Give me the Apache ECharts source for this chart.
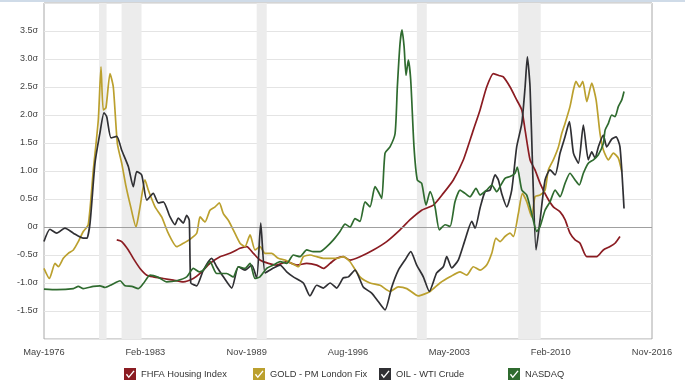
<!DOCTYPE html>
<html>
<head>
<meta charset="utf-8">
<script src="https://cdn.jsdelivr.net/npm/echarts@6/dist/echarts.min.js"></script>
<style>
html,body{margin:0;padding:0;background:#fff;}
#chart{width:685px;height:386px;}
</style>
</head>
<body>
<div id="chart"></div>
<script>
// x values are decimal years, y values are standard deviations (sigma)
var seriesNames = ['FHFA Housing Index', 'GOLD - PM London Fix', 'OIL - WTI Crude', 'NASDAQ'];
var seriesColors = ['#8b1c22', '#bba02e', '#303034', '#2f6b2f'];
var xTickLabels = ['May-1976', 'Feb-1983', 'Nov-1989', 'Aug-1996', 'May-2003', 'Feb-2010', 'Nov-2016'];
var recessions = [[1980.0, 1980.5], [1981.5, 1982.83], [1990.5, 1991.17], [2001.17, 2001.83], [2007.92, 2009.42]];

var fhfa = [
[1981.18,-0.23],[1981.51,-0.26],[1981.95,-0.41],[1982.28,-0.56],[1982.73,-0.74],[1983.18,-0.86],[1983.61,-0.89],
[1984.28,-0.92],[1984.95,-0.95],[1985.61,-0.98],[1986.28,-0.92],[1986.73,-0.83],[1987.39,-0.65],[1988.06,-0.53],
[1988.72,-0.47],[1989.39,-0.38],[1989.84,-0.35],[1990.28,-0.47],[1990.72,-0.59],[1991.28,-0.65],[1991.83,-0.68],
[1992.50,-0.62],[1993.17,-0.68],[1993.83,-0.65],[1994.50,-0.68],[1994.94,-0.74],[1995.39,-0.65],[1995.83,-0.56],
[1996.27,-0.53],[1996.72,-0.59],[1997.38,-0.53],[1998.27,-0.41],[1999.16,-0.26],[2000.05,-0.05],[2000.72,0.13],
[2001.49,0.30],[2002.27,0.39],[2002.93,0.60],[2003.60,0.84],[2004.27,1.20],[2004.93,1.73],[2005.38,2.09],
[2005.82,2.50],[2006.27,2.74],[2006.71,2.70],[2006.93,2.68],[2007.38,2.50],[2007.82,2.27],[2008.16,2.09],
[2008.38,1.73],[2008.71,1.20],[2009.04,1.02],[2009.38,0.78],[2009.82,0.54],[2010.26,0.36],[2010.71,0.27],
[2011.04,0.13],[2011.37,-0.11],[2011.71,-0.23],[2012.04,-0.29],[2012.49,-0.53],[2013.15,-0.53],[2013.59,-0.41],
[2014.04,-0.35],[2014.37,-0.29],[2014.70,-0.17]
];

var gold = [
[1976.33,-0.74],[1976.69,-0.92],[1977.07,-0.65],[1977.29,-0.71],[1977.62,-0.56],[1977.95,-0.47],[1978.29,-0.41],
[1978.62,-0.26],[1978.95,-0.08],[1979.28,0.04],[1979.62,1.02],[1979.95,1.91],[1980.13,2.86],[1980.28,2.09],
[1980.46,2.13],[1980.73,2.74],[1980.95,2.50],[1981.22,1.49],[1981.51,1.14],[1981.80,0.72],[1982.11,0.36],
[1982.46,0.00],[1982.73,0.36],[1983.06,0.84],[1983.28,0.66],[1983.73,0.36],[1984.17,0.18],[1984.61,-0.11],
[1985.17,-0.35],[1985.61,-0.29],[1986.06,-0.22],[1986.51,-0.11],[1986.73,0.18],[1987.06,0.09],[1987.39,0.30],
[1987.73,0.36],[1988.01,0.43],[1988.28,0.24],[1988.61,0.12],[1988.94,-0.05],[1989.39,-0.29],[1989.72,-0.35],
[1990.06,-0.14],[1990.39,-0.41],[1990.72,-0.35],[1991.06,-0.47],[1991.50,-0.47],[1991.94,-0.56],[1992.39,-0.59],
[1992.83,-0.65],[1993.28,-0.71],[1993.61,-0.53],[1994.05,-0.50],[1994.50,-0.53],[1994.94,-0.56],[1995.39,-0.56],
[1995.83,-0.56],[1996.27,-0.53],[1996.72,-0.62],[1997.38,-0.89],[1998.05,-1.00],[1998.72,-1.04],[1999.38,-1.15],
[1999.94,-1.07],[2000.50,-1.10],[2001.27,-1.23],[2002.05,-1.15],[2002.71,-1.00],[2003.38,-0.89],[2004.05,-0.80],
[2004.49,-0.86],[2004.93,-0.71],[2005.38,-0.77],[2005.82,-0.68],[2006.16,-0.47],[2006.44,-0.20],[2006.71,-0.26],
[2007.04,-0.17],[2007.38,-0.11],[2007.60,-0.17],[2007.93,0.24],[2008.20,0.60],[2008.49,0.45],[2008.82,0.18],
[2009.04,0.54],[2009.38,0.57],[2009.71,0.66],[2009.93,1.02],[2010.26,1.20],[2010.60,1.43],[2010.82,1.67],
[2011.04,1.85],[2011.37,2.15],[2011.60,2.45],[2011.77,2.60],[2012.00,2.50],[2012.22,2.60],[2012.49,2.24],
[2012.82,2.57],[2013.11,2.27],[2013.37,1.67],[2013.59,1.38],[2013.93,1.20],[2014.26,1.32],[2014.59,1.23],
[2014.82,0.99]
];

var oil = [
[1976.33,-0.26],[1976.73,-0.04],[1977.18,-0.11],[1977.73,-0.02],[1978.29,-0.11],[1978.95,-0.20],[1979.18,-0.20],
[1979.40,0.07],[1979.73,1.14],[1980.06,1.68],[1980.33,2.04],[1980.51,1.97],[1980.80,1.59],[1981.18,1.62],
[1981.51,1.37],[1981.95,1.08],[1982.28,0.72],[1982.51,0.99],[1982.84,0.93],[1983.18,0.48],[1983.61,0.60],
[1983.95,0.43],[1984.28,0.45],[1984.73,0.18],[1985.06,0.04],[1985.28,0.16],[1985.61,0.07],[1985.84,0.21],
[1986.01,0.12],[1986.11,-1.00],[1986.39,-1.04],[1986.51,-1.05],[1986.95,-0.77],[1987.50,-0.56],[1987.84,-0.71],
[1988.28,-0.89],[1988.84,-1.09],[1989.28,-0.71],[1989.72,-0.77],[1990.17,-0.68],[1990.50,-0.91],[1990.77,0.07],
[1991.06,-0.82],[1991.50,-0.75],[1992.06,-0.68],[1992.50,-0.80],[1992.94,-0.89],[1993.61,-1.00],[1994.05,-1.23],
[1994.50,-1.04],[1994.94,-1.09],[1995.39,-1.00],[1995.83,-1.09],[1996.27,-0.91],[1996.61,-0.89],[1997.05,-0.77],
[1997.60,-1.07],[1998.16,-1.18],[1998.60,-1.33],[1999.05,-1.48],[1999.50,-1.07],[1999.94,-0.77],[2000.38,-0.59],
[2000.76,-0.44],[2001.16,-0.68],[2001.60,-0.89],[2002.00,-1.15],[2002.49,-0.82],[2002.93,-0.71],[2003.16,-0.53],
[2003.49,-0.73],[2003.93,-0.59],[2004.38,-0.23],[2004.83,0.10],[2005.05,-0.02],[2005.38,0.34],[2005.71,0.63],
[2006.05,0.66],[2006.38,0.93],[2006.60,0.84],[2006.82,0.60],[2007.16,0.36],[2007.49,0.66],[2007.82,1.43],
[2008.16,1.85],[2008.38,2.50],[2008.53,3.04],[2008.71,2.50],[2008.89,0.96],[2009.11,-0.41],[2009.38,0.13],
[2009.71,0.84],[2010.04,1.02],[2010.38,0.93],[2010.71,1.32],[2011.04,1.61],[2011.33,1.88],[2011.60,1.32],
[2011.93,1.14],[2012.26,1.82],[2012.59,1.20],[2012.82,1.34],[2013.04,1.23],[2013.26,1.43],[2013.59,1.64],
[2013.82,1.43],[2014.15,1.57],[2014.44,1.61],[2014.70,1.43],[2014.97,0.33]
];

var nasdaq = [
[1976.33,-1.11],[1977.18,-1.12],[1978.29,-1.10],[1978.62,-1.06],[1978.95,-1.10],[1979.62,-1.06],[1980.06,-1.05],
[1980.40,-1.08],[1980.84,-1.03],[1981.40,-0.96],[1981.73,-1.05],[1982.18,-1.06],[1982.62,-1.10],[1982.95,-1.01],
[1983.40,-0.86],[1983.95,-0.90],[1984.51,-0.98],[1985.17,-0.96],[1985.84,-0.89],[1986.28,-0.74],[1986.68,-0.80],
[1986.95,-0.77],[1987.39,-0.62],[1987.84,-0.83],[1988.50,-0.83],[1988.94,-0.89],[1989.28,-0.71],[1989.72,-0.74],
[1990.06,-0.65],[1990.39,-0.92],[1990.72,-0.89],[1991.17,-0.74],[1991.61,-0.68],[1992.06,-0.62],[1992.50,-0.65],
[1992.94,-0.50],[1993.39,-0.53],[1993.83,-0.41],[1994.27,-0.44],[1994.72,-0.44],[1995.17,-0.35],[1995.61,-0.23],
[1996.05,-0.08],[1996.39,0.05],[1996.72,0.00],[1997.05,0.15],[1997.38,0.10],[1997.72,0.45],[1998.05,0.36],
[1998.38,0.72],[1998.60,0.63],[1998.83,0.51],[1999.05,1.32],[1999.38,1.43],[1999.72,1.67],[1999.87,2.50],
[2000.05,3.28],[2000.18,3.52],[2000.32,3.22],[2000.45,2.71],[2000.60,2.98],[2000.76,2.63],[2000.98,1.43],
[2001.20,0.84],[2001.49,0.78],[2001.78,0.39],[2002.05,0.63],[2002.38,0.36],[2002.67,-0.05],[2003.05,0.04],
[2003.38,0.01],[2003.71,0.45],[2004.05,0.66],[2004.38,0.60],[2004.71,0.54],[2005.11,0.69],[2005.38,0.57],
[2005.82,0.66],[2006.16,0.75],[2006.49,0.63],[2006.71,0.72],[2007.04,0.87],[2007.38,0.90],[2007.71,0.96],
[2007.86,1.07],[2008.16,0.66],[2008.49,0.57],[2008.82,0.24],[2009.16,-0.08],[2009.38,0.01],[2009.71,0.30],
[2010.04,0.45],[2010.38,0.66],[2010.71,0.54],[2011.04,0.78],[2011.37,0.96],[2011.71,0.84],[2011.99,0.75],
[2012.26,0.96],[2012.59,1.14],[2012.93,1.20],[2013.26,1.29],[2013.59,1.49],[2013.71,1.73],[2013.93,1.85],
[2014.15,2.00],[2014.37,1.97],[2014.59,2.15],[2014.82,2.27],[2014.97,2.42]
];

// axis runs in months since May-1976
var START = 1976 + 4 / 12;
function toMonths(y) { return (y - START) * 12; }
function conv(arr) { return arr.map(function (p) { return [toMonths(p[0]), p[1]]; }); }
var allData = [fhfa, gold, oil, nasdaq];

var chart = echarts.init(document.getElementById('chart'), null, {renderer: 'canvas'});

var series = allData.map(function (d, i) {
  var s = {
    name: seriesNames[i],
    type: 'line',
    data: conv(d),
    showSymbol: false,
    symbol: 'none',
    smooth: 0.2,
    z: 3 + i,
    lineStyle: {width: 1.7, color: seriesColors[i]},
    itemStyle: {color: seriesColors[i]},
    silent: true
  };
  if (i === 0) {
    s.markArea = {
      silent: true,
      itemStyle: {color: '#ececec'},
      data: recessions.map(function (r) { return [{xAxis: toMonths(r[0])}, {xAxis: toMonths(r[1])}]; })
    };
    s.markLine = {
      silent: true,
      symbol: 'none',
      label: {show: false},
      lineStyle: {color: '#a0a0a0', width: 1, type: 'solid'},
      data: [{yAxis: 0}]
    };
  }
  return s;
});

var checkIcon = 'path://M0,0L10,0L10,10L0,10Z M1.6,5.6L4,8.6L8.8,2.8L7.9,2.1L4,6.9L2.5,4.8Z';
var legendLefts = [124, 253, 379, 508];
var legends = seriesNames.map(function (n, i) {
  return {
    data: [n],
    left: legendLefts[i],
    top: 368,
    padding: 0,
    icon: checkIcon,
    itemWidth: 12,
    itemHeight: 12,
    itemGap: 5,
    selectedMode: false,
    textStyle: {fontFamily: 'Arial, Liberation Sans, sans-serif', fontSize: 9.3, color: '#333'}
  };
});

chart.setOption({
  animation: false,
  backgroundColor: '#ffffff',
  textStyle: {fontFamily: 'Arial, Liberation Sans, sans-serif'},
  grid: {left: 44, top: 3, right: 33, bottom: 47, show: true, borderColor: '#a8a8a8', borderWidth: 1, backgroundColor: 'transparent'},
  legend: legends,
  xAxis: {
    type: 'value',
    min: 0,
    max: 486,
    interval: 81,
    splitLine: {show: false},
    axisLine: {show: false},
    axisTick: {show: false},
    axisLabel: {
      color: '#444',
      fontSize: 9.3,
      margin: 9,
      formatter: function (v) { var k = Math.round(v / 81); return xTickLabels[k] || ''; }
    }
  },
  yAxis: {
    type: 'value',
    min: -2,
    max: 4,
    interval: 0.5,
    splitLine: {lineStyle: {color: '#e4e4e4', width: 1}},
    axisLine: {show: false},
    axisTick: {show: false},
    axisLabel: {
      color: '#444',
      fontSize: 9,
      margin: 6,
      formatter: function (v) {
        if (v <= -2 || v >= 4) return '';
        if (v === 0) return '0σ';
        return v.toFixed(1) + 'σ';
      }
    }
  },
  graphic: [{type: 'rect', left: 0, top: 0, shape: {width: 685, height: 2}, style: {fill: '#cfdbe8'}, silent: true}],
  series: series
});
</script>
</body>
</html>
